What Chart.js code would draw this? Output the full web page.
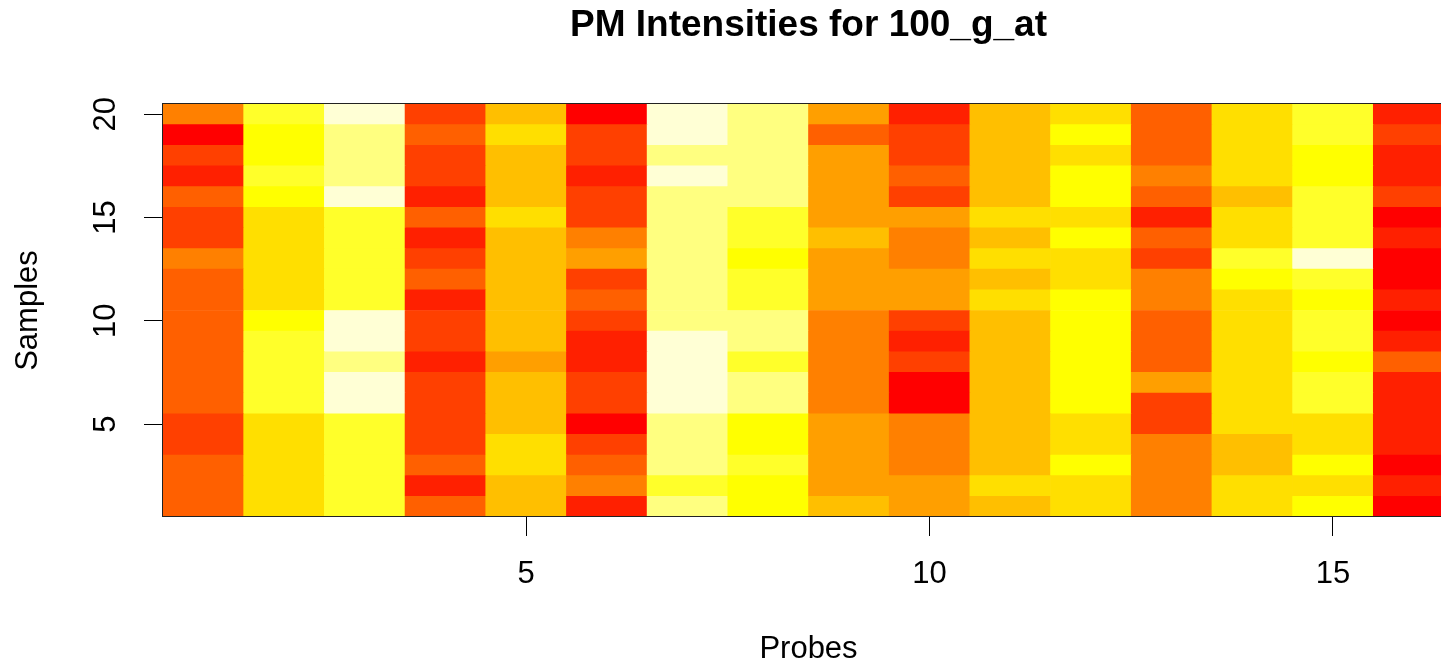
<!DOCTYPE html>
<html>
<head>
<meta charset="utf-8">
<title>PM Intensities for 100_g_at</title>
<script src="https://cdn.jsdelivr.net/npm/chart.js@4.4.1/dist/chart.umd.min.js"></script>
<style>
  html, body { margin: 0; padding: 0; background: #fff; overflow: hidden; }
  #wrap { width: 1441px; height: 666px; overflow: hidden; }
</style>
</head>
<body>
<div id="wrap"><canvas id="pmImage" width="1470" height="666"></canvas></div>
<script>
const probes = [1, 2, 3, 4, 5, 6, 7, 8, 9, 10, 11, 12, 13, 14, 15, 16];
const samples = [1, 2, 3, 4, 5, 6, 7, 8, 9, 10, 11, 12, 13, 14, 15, 16, 17, 18, 19, 20];
const xTicks = [5, 10, 15];
const yTicks = [5, 10, 15, 20];

// heat.colors(12), low -> high intensity
const heatColors = ['#FF0000', '#FF2000', '#FF4000', '#FF6000', '#FF8000', '#FF9F00',
  '#FFBF00', '#FFDF00', '#FFFF00', '#FFFF2A', '#FFFF80', '#FFFFD5'];

// intensity bin per probe (one row per probe), samples 1..20
const pmLevels = [
  [3, 3, 3, 2, 2, 3, 3, 3, 3, 3, 3, 3, 4, 2, 2, 3, 1, 2, 0, 4],
  [7, 7, 7, 7, 7, 9, 9, 9, 9, 8, 7, 7, 7, 7, 7, 8, 9, 8, 8, 9],
  [9, 9, 9, 9, 9, 11, 11, 10, 11, 11, 9, 9, 9, 9, 9, 11, 10, 10, 10, 11],
  [3, 1, 3, 2, 2, 2, 2, 1, 2, 2, 1, 3, 2, 1, 3, 1, 2, 2, 3, 2],
  [6, 6, 7, 7, 6, 6, 6, 5, 6, 6, 6, 6, 6, 6, 7, 6, 6, 6, 7, 6],
  [1, 4, 3, 2, 0, 2, 2, 1, 1, 2, 3, 2, 5, 4, 2, 2, 1, 2, 2, 0],
  [10, 9, 10, 10, 10, 11, 11, 11, 11, 10, 10, 10, 10, 10, 10, 10, 11, 10, 11, 11],
  [8, 8, 9, 8, 8, 10, 10, 9, 10, 10, 9, 9, 8, 9, 9, 10, 10, 10, 10, 10],
  [6, 5, 5, 5, 5, 4, 4, 4, 4, 4, 5, 5, 5, 6, 5, 5, 5, 5, 3, 5],
  [5, 5, 4, 4, 4, 0, 0, 2, 1, 2, 5, 5, 4, 4, 5, 2, 3, 2, 2, 1],
  [6, 7, 6, 6, 6, 6, 6, 6, 6, 6, 7, 6, 7, 6, 7, 6, 6, 6, 6, 6],
  [7, 7, 8, 7, 7, 8, 8, 8, 8, 8, 8, 7, 7, 8, 7, 8, 8, 7, 8, 7],
  [4, 4, 4, 4, 2, 2, 5, 3, 3, 3, 4, 4, 2, 3, 1, 3, 4, 3, 3, 3],
  [7, 7, 6, 6, 7, 7, 7, 7, 7, 7, 7, 8, 9, 7, 7, 6, 7, 7, 7, 7],
  [8, 7, 8, 7, 7, 9, 9, 8, 9, 9, 8, 9, 11, 9, 9, 9, 8, 8, 9, 9],
  [0, 1, 0, 1, 1, 1, 1, 3, 1, 0, 1, 0, 0, 1, 0, 2, 1, 1, 2, 1]
];

const fontFamily = '"Liberation Sans", Arial, Helvetica, sans-serif';

// one floating-bar dataset per sample row
const datasets = samples.map((s, j) => ({
  label: 'Sample ' + s,
  data: probes.map(p => ({ x: p, y: [s - 0.5, s + 0.5] })),
  backgroundColor: probes.map((p, i) => heatColors[pmLevels[i][j]]),
  borderWidth: 0,
  grouped: false,
  barPercentage: 1,
  categoryPercentage: 1
}));

// R style: y tick labels parallel to the axis, plus the box round the plot
const rAxesPlugin = {
  id: 'rAxes',
  afterDraw(chart) {
    const ctx = chart.ctx;
    const area = chart.chartArea;
    const yScale = chart.scales.y;
    ctx.save();
    ctx.fillStyle = '#000';
    ctx.font = '31px ' + fontFamily;
    ctx.textAlign = 'center';
    ctx.textBaseline = 'middle';
    yTicks.forEach(v => {
      ctx.save();
      ctx.translate(yScale.right - 57, yScale.getPixelForValue(v));
      ctx.rotate(-Math.PI / 2);
      ctx.fillText(String(v), 0, 0);
      ctx.restore();
    });
    ctx.strokeStyle = '#222';
    ctx.lineWidth = 1;
    ctx.strokeRect(Math.round(area.left) - 0.5, Math.round(area.top) - 0.5,
      area.right - area.left + 1, area.bottom - area.top);
    ctx.restore();
  }
};

new Chart(document.getElementById('pmImage'), {
  type: 'bar',
  data: { datasets: datasets },
  plugins: [rAxesPlugin],
  options: {
    responsive: false,
    animation: false,
    layout: { padding: { right: 16 } },
    plugins: {
      legend: { display: false },
      tooltip: { enabled: false },
      title: {
        display: true,
        fullSize: false,
        text: 'PM Intensities for 100_g_at',
        color: '#000',
        font: { family: fontFamily, size: 37, weight: 'bold', lineHeight: 1.2 },
        padding: { top: 4, bottom: 55.6 }
      }
    },
    scales: {
      x: {
        type: 'linear',
        min: 0.5,
        max: 16.5,
        offset: false,
        afterBuildTicks: axis => { axis.ticks = xTicks.map(v => ({ value: v })); },
        afterFit: axis => { axis.height = 149; },
        grid: { offset: false, drawOnChartArea: false, color: '#000', tickLength: 19, lineWidth: 1 },
        border: { display: false },
        ticks: {
          color: '#000', padding: 20, maxRotation: 0, autoSkip: false,
          font: { family: fontFamily, size: 31, lineHeight: 1.2 }
        },
        title: {
          display: true, text: 'Probes', color: '#000',
          font: { family: fontFamily, size: 31, lineHeight: 1 },
          padding: { top: 0, bottom: 1 }
        }
      },
      y: {
        type: 'linear',
        min: 0.5,
        max: 20.5,
        afterBuildTicks: axis => { axis.ticks = yTicks.map(v => ({ value: v })); },
        afterFit: axis => { axis.width = 163; },
        grid: { drawOnChartArea: false, color: '#000', tickLength: 19, lineWidth: 1 },
        border: { display: false },
        ticks: { display: false },
        title: {
          display: true, text: 'Samples', color: '#000',
          font: { family: fontFamily, size: 31, lineHeight: 1 },
          padding: { top: 13, bottom: 0 }
        }
      }
    }
  }
});
</script>
</body>
</html>
